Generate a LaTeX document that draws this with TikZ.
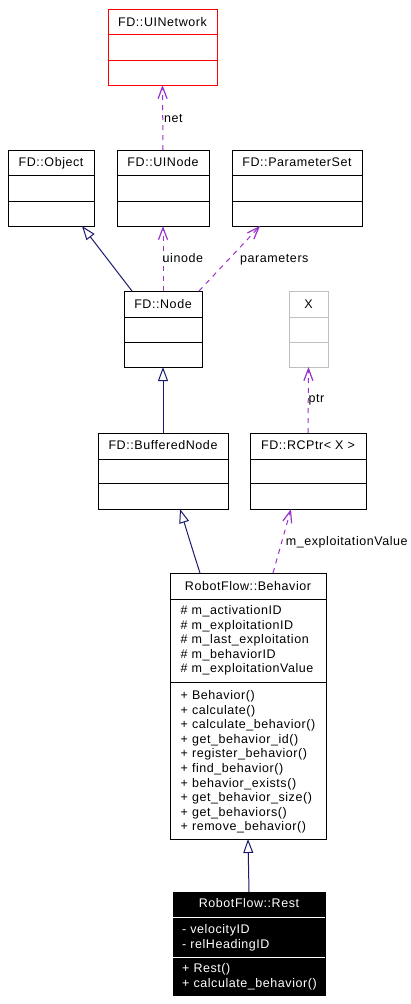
\documentclass[tikz,border=0pt]{standalone}
\usepackage{fontspec}
\setmainfont{Liberation Sans}[LetterSpace=4.5]
\usetikzlibrary{arrows.meta,calc}
\definecolor{dep}{HTML}{9A32CD}
\definecolor{inhc}{HTML}{191970}
\definecolor{grayc}{HTML}{BFBFBF}
\newcommand\umlbox[8]{%
  \node[cls,#2,minimum width={#5-#3},minimum height={#6-#4}] (#1) at ({(#3+#5)/2},{(#4+#6)/2}) {};
  \draw[divl,#2] (#1.west |- 0,#7) -- (#1.east |- 0,#7);
  \draw[divl,#2] (#1.west |- 0,#8) -- (#1.east |- 0,#8);
}
\tikzset{
  cls/.style={draw=black,line width=1pt,inner sep=0pt,outer sep=0pt},
  divl/.style={line width=1pt},
  txt/.style={font=\fontsize{12.5}{14}\selectfont,inner sep=0pt,anchor=base},
  mem/.style={txt,anchor=base west},
  elbl/.style={txt,anchor=base west},
  depl/.style={dep,line width=1pt,dash pattern=on 5pt off 5pt,-{Straight Barb[length=12pt,width=9pt,line width=1.2pt]}},
  inh/.style={inhc,line width=1pt,-{Triangle[open,length=14pt,width=10pt,fill=white]}},
  redbox/.style={draw=red},
  graybox/.style={draw=grayc},
  blackbox/.style={fill=black,draw=black},
}
\begin{document}
\begin{tikzpicture}[x=1pt,y=-1pt]
\fill[white] (0,0) rectangle (410,1004);
\useasboundingbox (0,0) rectangle (410,1004);
% boxes
\umlbox{uinet}{redbox}{108}{9}{217}{85}{34}{60}
\umlbox{obj}{}{8}{150}{94}{226}{175}{201}
\umlbox{uinode}{}{117}{150}{209}{226}{175}{201}
\umlbox{pset}{}{232}{150}{362}{226}{175}{201}
\umlbox{node}{}{124}{291}{202}{367}{317}{342}
\umlbox{xcls}{graybox}{289}{291}{328}{367}{317}{342}
\umlbox{bnode}{}{98}{433}{228}{509}{459}{483}
\umlbox{rcptr}{}{250}{433}{366}{509}{459}{483}
\umlbox{beh}{}{170}{573}{326}{839}{599}{682}
\node[cls,blackbox,minimum width=152,minimum height=103] (rest) at (249,943.5) {};
\draw[divl,white] (rest.west |- 0,917) -- (rest.east |- 0,917);
\draw[divl,white] (rest.west |- 0,957) -- (rest.east |- 0,957);
% class names
\node[txt] (uinet-t) at (162.5,26.5) {FD::UINetwork};
\node[txt] (obj-t) at (51,166.5) {FD::Object};
\node[txt] (uinode-t) at (163,166.5) {FD::UINode};
\node[txt] (pset-t) at (297,166.5) {FD::ParameterSet};
\node[txt] (node-t) at (163,308.5) {FD::Node};
\node[txt] (xcls-t) at (308.5,308.5) {X};
\node[txt] (bnode-t) at (163,449.5) {FD::BufferedNode};
\node[txt] (rcptr-t) at (308,449.5) {FD::RCPtr< X >};
\node[txt] (beh-t) at (248,590.5) {RobotFlow::Behavior};
\node[txt,text=white] (rest-t) at (249,907.5) {RobotFlow::Rest};
% members
\foreach [count=\i] \t in {{\# m\_activationID},{\# m\_exploitationID},{\# m\_last\_exploitation},{\# m\_behaviorID},{\# m\_exploitationValue}}
  \node[mem] (beha\i) at (180.5,{614.5+14.6*(\i-1)}) {\t};
\foreach [count=\i] \t in {{+ Behavior()},{+ calculate()},{+ calculate\_behavior()},{+ get\_behavior\_id()},{+ register\_behavior()},{+ find\_behavior()},{+ behavior\_exists()},{+ get\_behavior\_size()},{+ get\_behaviors()},{+ remove\_behavior()}}
  \node[mem] (behm\i) at (180.5,{699.5+14.6*(\i-1)}) {\t};
\node[mem,text=white] (resta1) at (182,933.5) {- velocityID};
\node[mem,text=white] (resta2) at (182,948.5) {- relHeadingID};
\node[mem,text=white] (restm1) at (182,972.5) {+ Rest()};
\node[mem,text=white] (restm2) at (182,987.5) {+ calculate\_behavior()};
% connectors
\draw[depl] (uinode.north) -- (uinet.south);
\node[elbl] (l-net) at (164,122) {net};
\draw[inh] ($(node.north west)+(8,0)$) -- ($(obj.south west)+(74,0)$);
\draw[depl] (node.north) -- (uinode.south);
\node[elbl] (l-uinode) at (162.5,262) {uinode};
\draw[depl] ($(node.north east)+(-3,0)$) -- ($(pset.south west)+(28,0)$);
\node[elbl] (l-param) at (240,262) {parameters};
\draw[inh] (bnode.north) -- (node.south);
\draw[depl] (rcptr.north) -- (xcls.south);
\node[elbl] (l-ptr) at (308.3,402.7) {ptr};
\draw[inh] ($(beh.north west)+(30,0)$) .. controls (191,545) and (185,525) .. ($(bnode.south west)+(82,0)$);
\draw[depl] ($(beh.north west)+(103,0)$) -- ($(rcptr.south west)+(41,0)$);
\node[elbl] (l-mexp) at (285.7,545) {m\_exploitationValue};
\draw[inh] (rest.north) -- (beh.south);
\end{tikzpicture}
\end{document}
